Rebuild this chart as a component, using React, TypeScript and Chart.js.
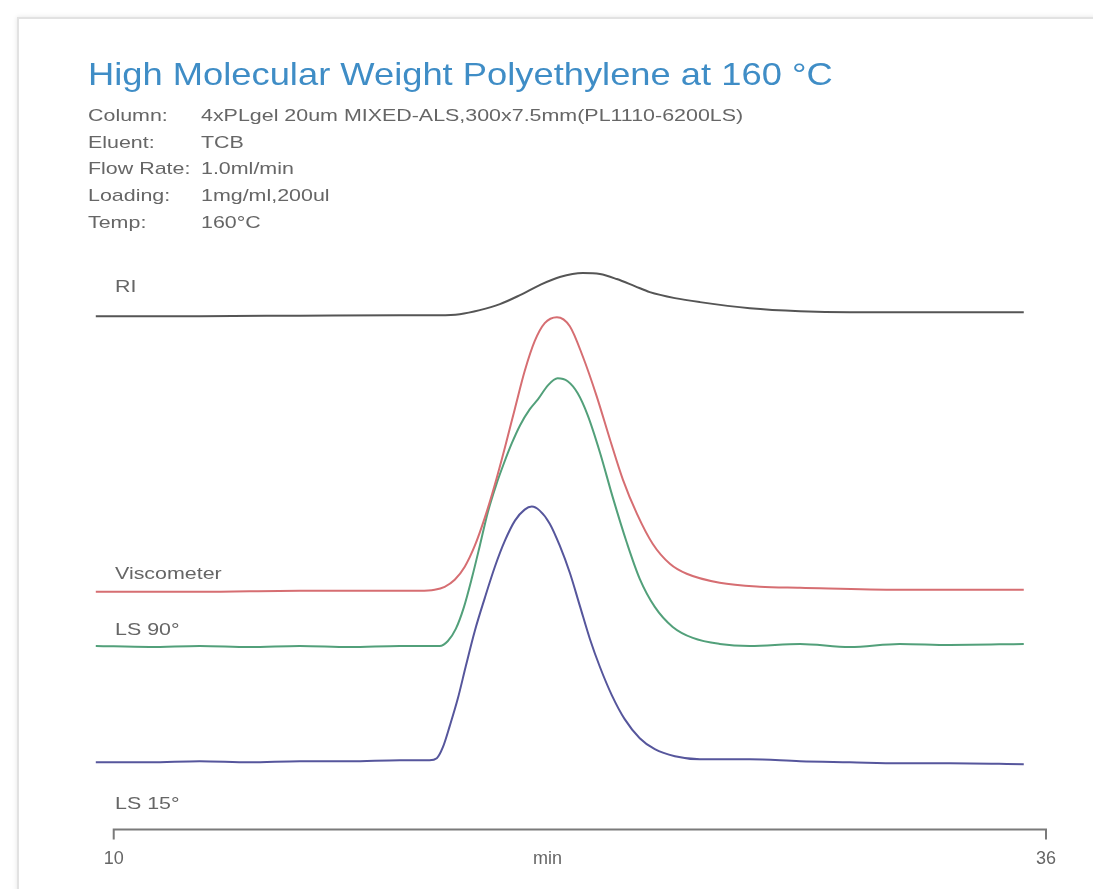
import React, { useEffect, useRef } from "react";
import { Chart, registerables } from "chart.js";

Chart.register(...registerables);

// ---- text content ----
const TITLE = "High Molecular Weight Polyethylene at 160 °C";
const INFO_LABELS = ["Column:", "Eluent:", "Flow Rate:", "Loading:", "Temp:"];
const INFO_VALUES = [
  "4xPLgel 20um MIXED-ALS,300x7.5mm(PL1110-6200LS)",
  "TCB",
  "1.0ml/min",
  "1mg/ml,200ul",
  "160°C",
];
const TRACE_NAMES = ["RI", "Viscometer", "LS 90°", "LS 15°"];
const TRACE_COLORS = ["#555555", "#d66e72", "#52a07a", "#56569c"];

// ---- x axis (retention time, min) ----
const X_TICKS = [10, 22.1, 36];
const X_TICK_LABELS = ["10", "min", "36"];

// ---- traces: retention time (min) and offset detector response (a.u.) ----
const riTime = [9.5, 12.4, 15.19, 17.98, 19.09, 19.65, 20.21, 20.77, 21.33, 21.88, 22.44, 23.08, 23.56, 24.03, 24.53, 24.95, 25.65, 26.35, 27.74, 29.14, 30.53, 33.32, 35.38];
const riSignal = [512, 512, 512.5, 513, 513, 514, 518, 524, 533, 543, 551, 555, 554, 549, 542, 536, 530, 526, 520, 517, 516, 516, 516];

const viscTime = [9.5, 12.4, 15.19, 17.98, 18.54, 18.95, 19.23, 19.51, 19.79, 20.07, 20.35, 20.63, 20.91, 21.19, 21.46, 21.74, 22.02, 22.36, 22.72, 23.08, 23.47, 23.84, 24.2, 24.59, 25.03, 25.51, 25.98, 26.9, 28.02, 29.14, 31.92, 35.38];
const viscSignal = [237, 237, 238, 238, 238, 239, 242, 249, 262, 283, 311, 344, 381, 420, 457, 487, 505, 511, 502, 472, 432, 389, 349, 315, 285, 265, 255, 246, 242, 241, 239, 239];

const ls90Time = [9.5, 11.0, 12.4, 13.79, 15.19, 16.58, 17.98, 19.09, 19.32, 19.54, 19.76, 19.99, 20.21, 20.43, 20.66, 20.88, 21.1, 21.33, 21.6, 21.83, 22.11, 22.38, 22.66, 22.94, 23.22, 23.56, 23.92, 24.31, 24.67, 25.09, 25.59, 26.15, 26.9, 27.74, 29.14, 30.53, 31.92, 33.32, 35.38];
const ls90Signal = [183, 182, 183, 182, 183, 182, 183, 183, 188, 200, 221, 251, 283, 316, 343, 365, 385, 403, 419, 429, 443, 450, 447, 435, 413, 376, 331, 286, 250, 222, 202, 191, 185, 183, 185, 182, 185, 184, 185];

const ls15Time = [9.5, 11.0, 12.4, 13.79, 15.19, 16.58, 17.98, 18.81, 19.01, 19.18, 19.37, 19.6, 19.82, 20.07, 20.35, 20.63, 20.91, 21.19, 21.46, 21.66, 21.88, 22.16, 22.44, 22.72, 23.0, 23.28, 23.56, 23.89, 24.25, 24.67, 25.09, 25.65, 26.35, 27.74, 29.14, 30.53, 31.92, 33.32, 35.38];
const ls15Signal = [67, 67, 68, 67, 68, 68, 69, 69, 71, 82, 103, 131, 163, 198, 231, 262, 288, 308, 319, 322, 318, 305, 283, 256, 223, 190, 162, 134, 110, 91, 80, 73, 70, 70, 68, 67, 66, 66, 65];

const TRACES = [
  { t: riTime, s: riSignal },
  { t: viscTime, s: viscSignal },
  { t: ls90Time, s: ls90Signal },
  { t: ls15Time, s: ls15Signal },
];

const SMALL_FONT = "'Liberation Sans', Arial, sans-serif";

const axisBracket = {
  id: "axisBracket",
  afterDraw(chart: any) {
    const { ctx, chartArea, scales } = chart;
    const x0 = scales.x.getPixelForValue(X_TICKS[0]);
    const x1 = scales.x.getPixelForValue(X_TICKS[X_TICKS.length - 1]);
    const y = chartArea.bottom;
    ctx.save();
    ctx.strokeStyle = "#7a7a7a";
    ctx.lineWidth = 2;
    ctx.beginPath();
    ctx.moveTo(x0, y + 10);
    ctx.lineTo(x0, y);
    ctx.lineTo(x1, y);
    ctx.lineTo(x1, y + 10);
    ctx.stroke();
    ctx.restore();
  },
};

function TextLine(props: { left: number; top: number; size: number; color: string; sx: number; children: any }) {
  return (
    <div
      style={{
        position: "absolute",
        left: props.left,
        top: props.top,
        fontFamily: SMALL_FONT,
        fontSize: props.size,
        lineHeight: `${props.size}px`,
        color: props.color,
        whiteSpace: "nowrap",
        transform: `scaleX(${props.sx})`,
        transformOrigin: "left top",
      }}
    >
      {props.children}
    </div>
  );
}

export default function App() {
  const canvasRef = useRef<HTMLCanvasElement | null>(null);

  useEffect(() => {
    if (!canvasRef.current) return;
    const chart = new Chart(canvasRef.current, {
      type: "line",
      data: {
        datasets: TRACES.map((tr, i) => ({
          label: TRACE_NAMES[i],
          data: tr.t.map((t, j) => ({ x: t, y: tr.s[j] })),
          borderColor: TRACE_COLORS[i],
          borderWidth: 2,
          pointRadius: 0,
          fill: false,
          cubicInterpolationMode: "monotone" as const,
          clip: false as any,
        })),
      },
      options: {
        responsive: false,
        animation: false,
        layout: { padding: { left: 94, right: 47, top: 250, bottom: 0 } },
        plugins: {
          legend: { display: false },
          tooltip: { enabled: false },
          title: { display: false },
        },
        scales: {
          x: {
            type: "linear",
            min: 9.45,
            max: 36,
            grid: { display: false, drawTicks: false },
            border: { display: false },
            afterBuildTicks: (axis: any) => {
              axis.ticks = X_TICKS.map((v) => ({ value: v }));
            },
            ticks: {
              padding: 19,
              color: "#666666",
              autoSkip: false,
              maxRotation: 0,
              font: { family: SMALL_FONT, size: 18 },
              callback: (_v: any, idx: number) => X_TICK_LABELS[idx],
            },
          },
          y: { display: false, min: 0, max: 578 },
        },
      },
      plugins: [axisBracket],
    });
    return () => chart.destroy();
  }, []);

  const infoTops = [107, 134, 160, 187, 214];
  const labelTops = [278, 565, 621, 795];

  return (
    <div style={{ position: "absolute", left: 0, top: 0, width: 1093, height: 889, overflow: "hidden", background: "#ffffff" }}>
      <div
        style={{
          position: "absolute",
          left: 17,
          top: 17,
          width: 1200,
          height: 1000,
          borderTop: "2px solid #e2e2e2",
          borderLeft: "2px solid #e2e2e2",
          boxShadow: "0 0 5px rgba(0,0,0,0.10)",
        }}
      />
      <canvas ref={canvasRef} width={1093} height={889} style={{ position: "absolute", left: 0, top: 0, display: "block" }} />
      <TextLine left={88} top={58} size={32} color="#3f8dc6" sx={1.135}>
        {TITLE}
      </TextLine>
      {INFO_LABELS.map((l, i) => (
        <TextLine key={"l" + i} left={88} top={infoTops[i]} size={17} color="#666666" sx={1.26}>
          {l}
        </TextLine>
      ))}
      {INFO_VALUES.map((v, i) => (
        <TextLine key={"v" + i} left={201} top={infoTops[i]} size={17} color="#666666" sx={1.26}>
          {v}
        </TextLine>
      ))}
      {TRACE_NAMES.map((n, i) => (
        <TextLine key={"n" + i} left={115} top={labelTops[i]} size={17} color="#666666" sx={1.26}>
          {n}
        </TextLine>
      ))}
    </div>
  );
}
